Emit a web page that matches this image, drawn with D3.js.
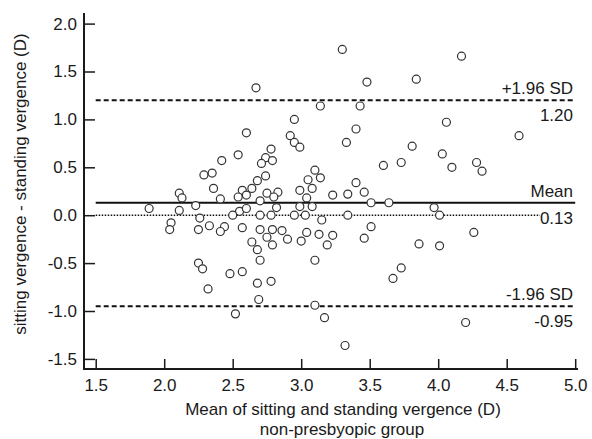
<!DOCTYPE html>
<html>
<head>
<meta charset="UTF-8">
<script src="https://d3js.org/d3.v7.min.js"></script>
<style>
body { margin: 0; background: #fff; }
svg { display: block; }
text { font-family: "Liberation Sans", Arial, sans-serif; font-size: 17px; fill: #1a1a1a; }
.pt { fill: #fff; stroke: #333; stroke-width: 1.2; }
</style>
</head>
<body>
<svg width="592" height="439"></svg>
<script>
// mean of sitting and standing vergence (D)
const meanVals = [
  3.30, 3.48, 2.67, 3.14, 3.43, 2.95, 2.60, 3.40, 2.92, 2.95, 2.99, 3.33, 2.78,
  4.17, 3.84, 4.06, 4.59, 3.81,
  3.60, 3.73, 4.03, 4.10, 4.28, 4.32, 3.64, 3.97, 4.01, 4.26, 3.86, 4.01, 3.73, 3.67,
  4.20,
  2.32, 2.68, 2.78, 2.69, 2.52, 3.10, 3.17, 3.32,
  1.89, 2.11, 2.13, 2.11, 2.23, 2.05, 2.04,
  2.54, 2.42, 2.74, 2.71, 2.79, 2.29, 2.35, 2.74, 2.68, 3.10, 3.05, 3.14, 3.40,
  2.36, 2.64, 2.57, 2.54, 2.60, 2.41, 2.75, 2.83, 2.80, 2.70, 2.99, 3.08, 3.04,
  3.23, 3.34, 3.46, 3.51, 2.26, 2.82, 2.99, 3.08, 2.55, 2.60, 2.50, 2.70, 2.78,
  2.95, 3.03, 3.34, 3.15, 2.25, 2.33, 2.44, 2.41, 2.57, 2.70, 2.79, 2.75, 2.86,
  2.90, 2.79, 3.00, 3.04, 3.13, 3.23, 3.19, 3.46, 3.51, 2.64, 2.68, 2.70, 3.10,
  2.25, 2.28, 2.48, 2.57
];
// sitting vergence - standing vergence (D)
const diffVals = [
  1.73, 1.39, 1.33, 1.14, 1.14, 1.00, 0.86, 0.90, 0.83, 0.76, 0.71, 0.76, 0.69,
  1.66, 1.42, 0.97, 0.83, 0.72,
  0.52, 0.55, 0.64, 0.50, 0.55, 0.46, 0.13, 0.08, 0.00, -0.18, -0.30, -0.32, -0.55, -0.66,
  -1.12,
  -0.77, -0.71, -0.69, -0.88, -1.03, -0.94, -1.07, -1.36,
  0.07, 0.23, 0.18, 0.05, 0.10, -0.08, -0.15,
  0.63, 0.57, 0.60, 0.54, 0.57, 0.42, 0.44, 0.41, 0.36, 0.47, 0.37, 0.39, 0.34,
  0.28, 0.28, 0.26, 0.19, 0.21, 0.17, 0.23, 0.24, 0.19, 0.15, 0.26, 0.28, 0.18,
  0.21, 0.22, 0.24, 0.13, -0.03, 0.08, 0.09, 0.09, 0.04, 0.07, 0.00, 0.00, 0.00,
  0.00, 0.00, 0.00, -0.05, -0.15, -0.11, -0.12, -0.17, -0.13, -0.15, -0.15, -0.23, -0.16,
  -0.25, -0.31, -0.27, -0.18, -0.20, -0.21, -0.31, -0.24, -0.12, -0.28, -0.36, -0.47, -0.47,
  -0.50, -0.56, -0.61, -0.59
];
const meanDiff = 0.13;
const upperLoA = 1.20;
const lowerLoA = -0.95;
const xTicks = [1.5, 2.0, 2.5, 3.0, 3.5, 4.0, 4.5, 5.0];
const yTicks = [-1.5, -1.0, -0.5, 0.0, 0.5, 1.0, 1.5, 2.0];

const svg = d3.select('svg');
const x = d3.scaleLinear().domain([1.5, 5.0]).range([95.7, 575.2]);
const y = d3.scaleLinear().domain([-1.5, 2.0]).range([358.9, 23.6]);
const axisX = 84, axisY = 369;
const fmt = d => d3.format('.1f')(d).replace('−', '-');

// y axis
const gy = svg.append('g')
  .attr('transform', `translate(${axisX},0)`)
  .call(d3.axisLeft(y).tickValues(yTicks).tickFormat(fmt)
    .tickSizeInner(-11).tickSizeOuter(0).tickPadding(7));
gy.select('.domain').remove();
gy.selectAll('.tick line').attr('stroke', '#1a1a1a').attr('stroke-width', 1.5);
gy.selectAll('.tick text').attr('font-size', 17).attr('fill', '#1a1a1a')
  .attr('font-family', '"Liberation Sans", Arial, sans-serif');

// x axis
const gx = svg.append('g')
  .attr('transform', `translate(0,${axisY})`)
  .call(d3.axisBottom(x).tickValues(xTicks).tickFormat(fmt)
    .tickSizeInner(-10).tickSizeOuter(0).tickPadding(10));
gx.select('.domain').remove();
gx.selectAll('.tick line').attr('stroke', '#1a1a1a').attr('stroke-width', 1.5);
gx.selectAll('.tick text').attr('font-size', 17).attr('fill', '#1a1a1a')
  .attr('font-family', '"Liberation Sans", Arial, sans-serif');

// axis lines
svg.append('line').attr('x1', axisX).attr('x2', axisX).attr('y1', 13).attr('y2', axisY + 1)
  .attr('stroke', '#1a1a1a').attr('stroke-width', 2);
svg.append('line').attr('x1', axisX - 1).attr('x2', 578).attr('y1', axisY).attr('y2', axisY)
  .attr('stroke', '#1a1a1a').attr('stroke-width', 2);

// reference lines
const refLine = (v, dash, x2) => svg.append('line')
  .attr('x1', x(1.5)).attr('x2', x2).attr('y1', y(v)).attr('y2', y(v))
  .attr('stroke', '#111').attr('stroke-width', dash === 'dot' ? 1.6 : 2)
  .attr('stroke-dasharray', dash === 'dot' ? '1.5 1.5' : dash);

refLine(0, 'dot', 540);
refLine(meanDiff, null, x(5.0));
refLine(upperLoA, '5 3', x(5.0));
refLine(lowerLoA, '5 3', x(5.0));

// points
const pts = meanVals.map((m, i) => ({ m: m, d: diffVals[i] }));
svg.append('g').selectAll('circle').data(pts).enter().append('circle')
  .attr('class', 'pt')
  .attr('cx', p => x(p.m)).attr('cy', p => y(p.d)).attr('r', 4);

// line labels
const lbl = (txt, yy) => svg.append('text').attr('x', 573).attr('y', yy)
  .attr('text-anchor', 'end').text(txt);
lbl('+1.96 SD', y(upperLoA) - 6);
lbl(upperLoA.toFixed(2), y(upperLoA) + 21);
lbl('Mean', y(meanDiff) - 6);
lbl(meanDiff.toFixed(2), y(meanDiff) + 21);
lbl('-1.96 SD', y(lowerLoA) - 6);
lbl(lowerLoA.toFixed(2), y(lowerLoA) + 21);

// axis titles
svg.append('text').attr('x', 343).attr('y', 415).attr('text-anchor', 'middle')
  .text('Mean of sitting and standing vergence (D)');
svg.append('text').attr('x', 342).attr('y', 435).attr('text-anchor', 'middle')
  .text('non-presbyopic group');
svg.append('text').attr('transform', 'translate(26,184) rotate(-90)')
  .attr('text-anchor', 'middle')
  .text('sitting vergence - standing vergence (D)');
</script>
</body>
</html>
